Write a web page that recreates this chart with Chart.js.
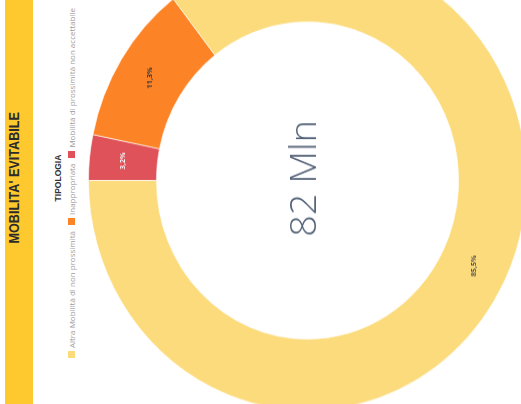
<!DOCTYPE html>
<html>
<head>
<meta charset="utf-8">
<script src="https://cdn.jsdelivr.net/npm/chart.js@4.4.0/dist/chart.umd.min.js"></script>
<style>
html, body { margin: 0; padding: 0; width: 521px; height: 404px; overflow: hidden; background: #fff; }
/* the whole panel is laid out upright, then turned a quarter left */
#frame { position: absolute; left: 0; top: 0; width: 460px; height: 560px;
  transform-origin: 0 0; transform: translate(0, 404px) rotate(-90deg);
  font-family: "Open Sans", sans-serif; }
#band { position: absolute; left: 0; top: 5px; width: 452px; height: 28px; background: #fdc92f;
  text-align: center; line-height: 28px; color: #2b2b2b;
  font: bold 15px "Liberation Sans", sans-serif; }
#band span { display: inline-block; transform: scaleX(0.84); }
#legTitle { position: absolute; left: 0; top: 53px; width: 452px; text-align: center;
  font: bold 8.5px "Liberation Sans", sans-serif; color: #333; }
#legend { position: absolute; left: 0; top: 66px; width: 442px; display: flex; justify-content: center;
  font-size: 8px; color: #9c9c9c; }
.item { display: flex; align-items: center; margin: 0 3px; }
.box { width: 7px; height: 7px; margin-right: 3px; }
/* source picture is slightly taller than wide: stretch the ring a little */
#wrap { position: absolute; left: 3.5px; top: 87.5px; width: 439px; height: 439px; transform: scaleX(1.05); }
</style>
</head>
<body>
<div id="frame">
  <div id="band"><span>MOBILITA' EVITABILE</span></div>
  <div id="legTitle">TIPOLOGIA</div>
  <div id="legend"></div>
  <div id="wrap"><canvas id="donut" width="439" height="439"></canvas></div>
</div>
<script>
const labels = ['Mobilità di prossimità non accettabile', 'Inappropriata', 'Altra Mobilità di non prossimità'];
const shares = [3.2, 11.3, 85.5];
const colors = ['#df5259', '#fd8426', '#fcdb7c'];
const labelColors = ['#f2f2f2', '#3a3a3a', '#555555'];
const totalText = '82 Mln';

// legend, last slice first
const legend = document.getElementById('legend');
labels.slice().reverse().forEach((name, k) => {
    const i = labels.length - 1 - k;
    const item = document.createElement('div');
    item.className = 'item';
    item.innerHTML = '<span class="box" style="background:' + colors[i] + '"></span>' + name;
    legend.appendChild(item);
});

// percent on each slice + total in the hole
const sliceLabels = {
    id: 'sliceLabels',
    afterDatasetsDraw(chart) {
        const ctx = chart.ctx;
        const meta = chart.getDatasetMeta(0);
        ctx.save();
        ctx.textAlign = 'center';
        ctx.textBaseline = 'middle';
        ctx.font = 'bold 7px "Open Sans", sans-serif';
        meta.data.forEach((arc, i) => {
            const p = arc.tooltipPosition();
            ctx.fillStyle = labelColors[i];
            ctx.fillText(shares[i].toFixed(1).replace('.', ',') + '%', p.x, p.y);
        });
        const c = meta.data[0];
        ctx.font = '300 36px "Open Sans", sans-serif';
        ctx.fillStyle = '#566479';
        ctx.fillText(totalText, c.x + 2, c.y - 2);
        ctx.restore();
    }
};

new Chart(document.getElementById('donut'), {
    type: 'doughnut',
    data: {
        labels: labels,
        datasets: [{
            data: shares,
            backgroundColor: colors,
            borderColor: 'rgba(255,255,255,0.6)',
            borderWidth: 1
        }]
    },
    options: {
        responsive: false,
        animation: false,
        cutout: '69%',
        plugins: { legend: { display: false }, tooltip: { enabled: false } }
    },
    plugins: [sliceLabels]
});
</script>
</body>
</html>
